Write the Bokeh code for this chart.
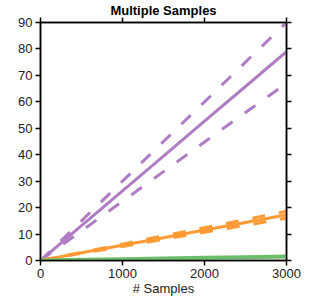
from bokeh.plotting import figure
from bokeh.models import LinearAxis, Range1d, FixedTicker
from bokeh.embed import file_html
from bokeh.resources import INLINE

# data
samples = [0, 500, 1000, 1500, 2000, 2500, 3000]
purple_mean = [0, 13.2, 26.3, 39.5, 52.7, 65.8, 79]
purple_upper = [0, 15.0, 30.0, 45.0, 60.0, 75.0, 90]
purple_lower = [0, 11.2, 22.4, 33.6, 44.8, 56.0, 67]
orange_mean = [0, 2.9, 5.8, 8.6, 11.5, 14.4, 17.3]
orange_upper = [0, 3.1, 6.2, 9.3, 12.4, 15.5, 18.6]
orange_lower = [0, 2.7, 5.3, 8.0, 10.7, 13.3, 16.0]
green_mean = [0, 0.25, 0.5, 0.75, 1.0, 1.25, 1.5]
green_upper = [0, 0.27, 0.53, 0.8, 1.07, 1.33, 1.6]
green_lower = [0, 0.23, 0.47, 0.7, 0.93, 1.17, 1.4]
x_ticks = [0, 1000, 2000, 3000]
y_ticks = [0, 10, 20, 30, 40, 50, 60, 70, 80, 90]

PURPLE = "#b07cc4"
ORANGE = "#ff9a35"
GREEN = "#6cbd6a"
FONT = "Liberation Sans"

p = figure(width=316, height=298, output_backend="svg", toolbar_location=None,
           x_range=Range1d(0, 3000), y_range=Range1d(0, 90),
           min_border_left=40, min_border_right=30, min_border_top=10, min_border_bottom=20,
           x_axis_label="# Samples", title="Multiple Samples")
p.title.align = "center"
p.title.text_font = FONT
p.title.text_font_size = "13px"
p.title.text_font_style = "bold"
p.title.text_color = "black"
p.title.standoff = 0
p.title.offset = 0
p.grid.visible = False
p.outline_line_color = "black"
p.outline_line_width = 1.5

for ax in p.xaxis + p.yaxis:
    ax.major_tick_out = 5
    ax.major_tick_in = 0
    ax.minor_tick_line_color = None
    ax.axis_line_color = "black"
    ax.axis_line_width = 1.5
    ax.major_tick_line_width = 1.5
    ax.major_label_text_font = FONT
    ax.major_label_text_font_size = "13px"
    ax.major_label_text_color = "#222222"
    ax.major_label_standoff = 3
p.xaxis.ticker = FixedTicker(ticks=x_ticks)
p.yaxis.ticker = FixedTicker(ticks=y_ticks)
p.xaxis.major_label_standoff = 3
p.xaxis.axis_label_text_font = FONT
p.xaxis.axis_label_text_font_size = "13px"
p.xaxis.axis_label_text_font_style = "normal"
p.xaxis.axis_label_text_color = "#222222"
p.xaxis.axis_label_standoff = 0

top = LinearAxis(ticker=FixedTicker(ticks=x_ticks), major_label_text_font_size="1px",
                 major_label_text_color=None,
                 major_tick_out=5, major_tick_in=0, minor_tick_line_color=None,
                 major_label_standoff=0, axis_line_width=1.5, major_tick_line_width=1.5)
right = LinearAxis(ticker=FixedTicker(ticks=y_ticks), major_label_text_font_size="1px",
                   major_label_text_color=None,
                   major_tick_out=5, major_tick_in=0, minor_tick_line_color=None,
                   major_label_standoff=0, axis_line_width=1.5, major_tick_line_width=1.5)
p.add_layout(top, "above")
p.add_layout(right, "right")

p.line(samples, purple_mean, line_color=PURPLE, line_width=3)
p.line(samples, purple_upper, line_color=PURPLE, line_width=3, line_dash="13 15")
p.line(samples, purple_lower, line_color=PURPLE, line_width=3, line_dash="13 15")
p.line(samples, orange_mean, line_color=ORANGE, line_width=3)
p.line(samples, orange_upper, line_color=ORANGE, line_width=3, line_dash="13 14")
p.line(samples, orange_lower, line_color=ORANGE, line_width=3, line_dash="13 14")
p.line(samples, green_upper, line_color=GREEN, line_width=2, line_dash="13 14")
p.line(samples, green_lower, line_color=GREEN, line_width=2, line_dash="13 14")
p.line(samples, green_mean, line_color=GREEN, line_width=4)

open("out.html", "w").write(file_html(p, INLINE))
